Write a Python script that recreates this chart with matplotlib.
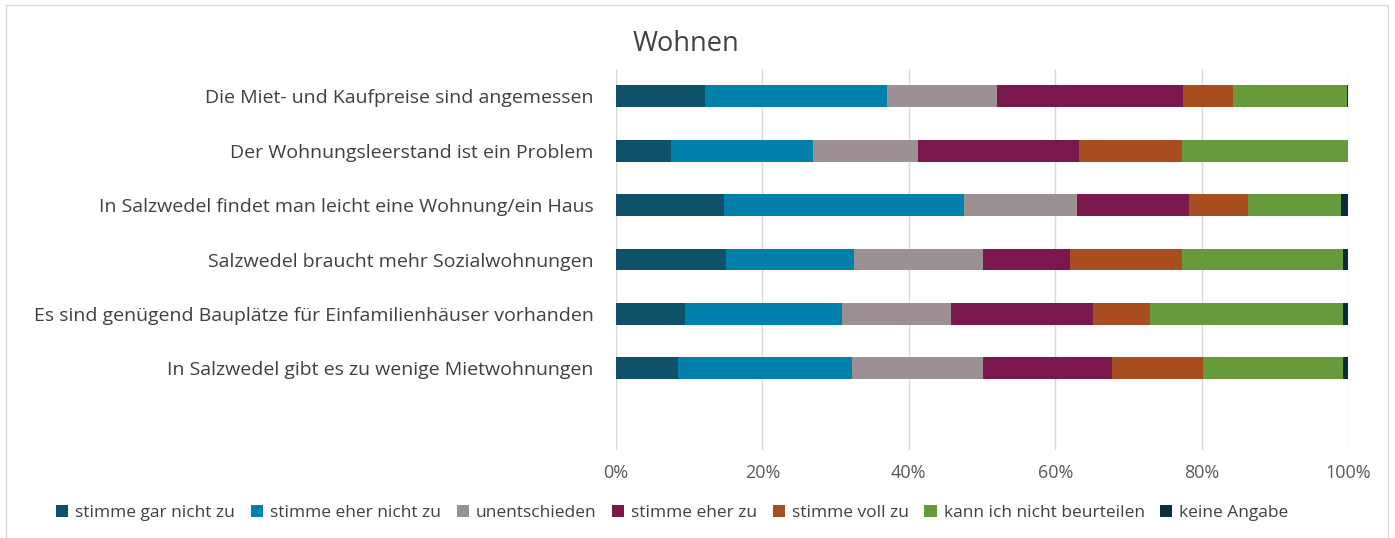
import matplotlib.pyplot as plt
from matplotlib.patches import Rectangle
import numpy as np

plt.rcParams['font.family'] = ['Open Sans', 'DejaVu Sans']

questions = [
    'Die Miet- und Kaufpreise sind angemessen',
    'Der Wohnungsleerstand ist ein Problem',
    'In Salzwedel findet man leicht eine Wohnung/ein Haus',
    'Salzwedel braucht mehr Sozialwohnungen',
    'Es sind genügend Bauplätze für Einfamilienhäuser vorhanden',
    'In Salzwedel gibt es zu wenige Mietwohnungen',
]
answers = ['stimme gar nicht zu', 'stimme eher nicht zu', 'unentschieden',
           'stimme eher zu', 'stimme voll zu', 'kann ich nicht beurteilen',
           'keine Angabe']

gar_nicht = [12.1, 7.5, 14.7, 15.0, 9.4, 8.4]
eher_nicht = [24.9, 19.4, 32.8, 17.5, 21.5, 23.9]
unentschieden = [15.1, 14.3, 15.5, 17.7, 14.8, 17.9]
eher_zu = [25.3, 22.1, 15.3, 11.8, 19.4, 17.5]
voll_zu = [6.9, 14.0, 8.0, 15.3, 7.9, 12.5]
kann_nicht = [15.5, 22.7, 12.8, 22.0, 26.3, 19.1]
keine_angabe = [0.3, 0.0, 0.9, 0.7, 0.7, 0.7]

series = [gar_nicht, eher_nicht, unentschieden, eher_zu, voll_zu,
          kann_nicht, keine_angabe]
colors = ['#0E5269', '#0080AB', '#9C9092', '#7A174C', '#A84D1F',
          '#659B3D', '#0B2E3C']

fig = plt.figure(figsize=(13.95, 5.38), dpi=100)
ax = fig.add_axes([0.4416, 0.1636, 0.5247, 0.7081])

y = np.arange(len(questions))
left = np.zeros(len(questions))
for vals, col, name in zip(series, colors, answers):
    vals = np.array(vals)
    ax.barh(y, vals, left=left, height=0.4, color=col, label=name, zorder=3)
    left += vals

ax.set_xlim(0, 100)
ax.set_ylim(6.5, -0.5)
ax.set_xticks(np.arange(0, 101, 20))
ax.set_xticklabels([f'{v}%' for v in range(0, 101, 20)], fontsize=13, color='#595959')
ax.set_yticks(y)
ax.set_yticklabels(questions, fontsize=14, color='#404040')
ax.tick_params(length=0, pad=16)
ax.tick_params(axis='x', pad=10)
ax.grid(axis='x', color='#D9D9D9', linewidth=1, zorder=0)
for s in ax.spines.values():
    s.set_visible(False)

fig.text(0.4918, 0.918, 'Wohnen', fontsize=19.5, color='#404040', ha='center', va='center')

fig.legend(loc='center', bbox_to_anchor=(0.482, 0.046), ncol=7, frameon=False,
           fontsize=12.5, handlelength=0.7, handleheight=0.7, handletextpad=0.4,
           columnspacing=0.9, labelcolor='#404040')

fig.patches.append(Rectangle((0.004, -0.01), 0.991, 1.0, transform=fig.transFigure,
                             fill=False, edgecolor='#D9D9D9', linewidth=1))

fig.savefig('out.png', dpi=100)
